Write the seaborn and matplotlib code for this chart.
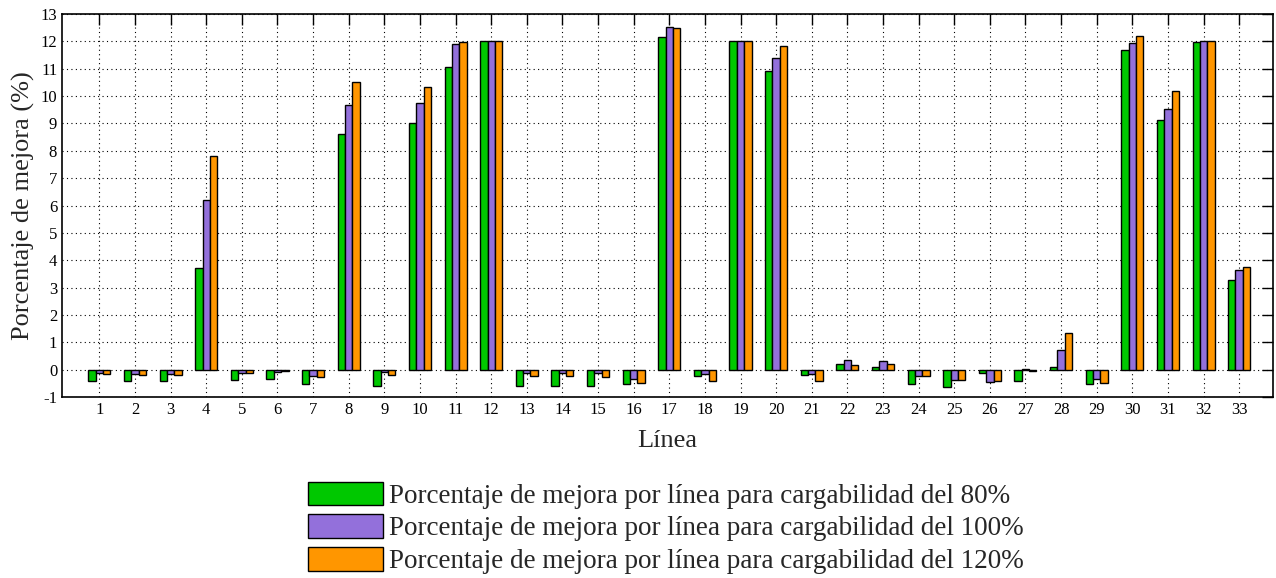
import numpy as np
import pandas as pd
import seaborn as sns
import matplotlib
matplotlib.use("Agg")
import matplotlib.pyplot as plt

lineas = list(range(1, 34))
mejora_80 = [-0.40, -0.43, -0.43, 3.70, -0.38, -0.35, -0.52, 8.60, -0.59, 9.02,
             11.07, 12.00, -0.59, -0.59, -0.60, -0.52, 12.17, -0.23, 12.00, 10.91,
             -0.20, 0.22, 0.10, -0.52, -0.63, -0.12, -0.41, 0.09, -0.52, 11.67,
             9.11, 11.99, 3.26]
mejora_100 = [-0.13, -0.16, -0.16, 6.20, -0.12, -0.07, -0.24, 9.68, -0.10, 9.76,
              11.90, 12.00, -0.12, -0.13, -0.12, -0.34, 12.51, -0.16, 12.00, 11.38,
              -0.15, 0.35, 0.32, -0.24, -0.37, -0.45, 0.02, 0.70, -0.34, 11.94,
              9.51, 12.01, 3.65]
mejora_120 = [-0.16, -0.18, -0.21, 7.80, -0.11, -0.04, -0.26, 10.50, -0.21, 10.32,
              11.98, 12.00, -0.23, -0.23, -0.27, -0.49, 12.48, -0.41, 12.00, 11.84,
              -0.41, 0.16, 0.22, -0.24, -0.38, -0.40, -0.05, 1.35, -0.49, 12.18,
              10.18, 12.01, 3.76]
series = ["Porcentaje de mejora por línea para cargabilidad del 80%",
          "Porcentaje de mejora por línea para cargabilidad del 100%",
          "Porcentaje de mejora por línea para cargabilidad del 120%"]
colores = ["#00c800", "#9370db", "#ff9600"]

df = pd.DataFrame({"Línea": lineas * 3,
                   "valor": mejora_80 + mejora_100 + mejora_120,
                   "serie": [series[0]] * 33 + [series[1]] * 33 + [series[2]] * 33})

sns.set_style("white")
plt.rcParams["font.family"] = ["Liberation Serif", "DejaVu Serif"]
plt.rcParams["axes.unicode_minus"] = False

fig = plt.figure(figsize=(12.76, 5.78), dpi=100)
ax = fig.add_axes([62 / 1276, 1 - 397 / 578, 1211 / 1276, 383 / 578])

sns.barplot(data=df, x="Línea", y="valor", hue="serie", palette=colores,
            saturation=1, width=0.62, gap=0, edgecolor="black", linewidth=1.0, ax=ax)

ax.set_xlim(-1.05, 32.95)
ax.set_ylim(-1, 13)
ax.set_yticks(range(-1, 14))
ax.set_xticks(range(33))
ax.set_xticklabels([str(l) for l in lineas])
ax.tick_params(direction="in", length=8, width=1, top=True, right=True,
               labelsize=12, colors="black")
ax.grid(True, linestyle=(0, (1, 3)), color="black", linewidth=0.8)
ax.set_axisbelow(True)
for s in ax.spines.values():
    s.set_color("black")
    s.set_linewidth(1.2)

ax.set_xlabel("Línea", fontsize=19, labelpad=9)
ax.set_ylabel("Porcentaje de mejora (%)", fontsize=19, labelpad=4)

handles, labels = ax.get_legend_handles_labels()
ax.get_legend().remove()
fig.legend(handles, labels, loc="upper center", bbox_to_anchor=(666 / 1276, 1 - 468 / 578),
           frameon=False, fontsize=19.5, handlelength=2.78, handleheight=0.95,
           labelspacing=0.22, handletextpad=0.22, borderpad=0)

fig.savefig("out.png", dpi=100)
